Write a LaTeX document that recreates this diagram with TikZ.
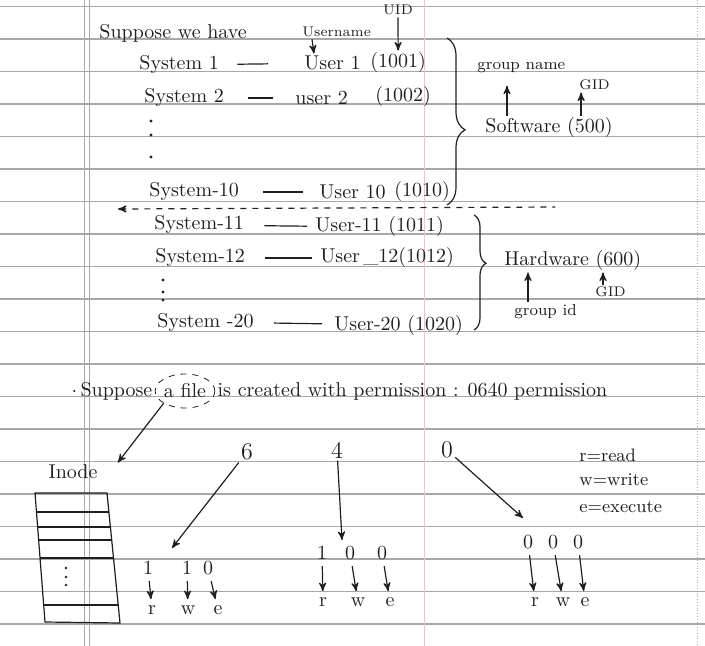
\documentclass[tikz,border=0pt]{standalone}
\usepackage{tikz}
\usetikzlibrary{arrows,positioning,shapes.geometric,decorations.pathreplacing}
\definecolor{ink}{gray}{0.12}
\definecolor{rulegray}{gray}{0.66}
\definecolor{marginpink}{RGB}{240,195,205}

\begin{document}
\begin{tikzpicture}[x=0.5pt,y=-0.5pt,>=stealth',
  every node/.style={inner sep=1pt,text=ink},
  small/.style={font=\scriptsize},
  hand/.style={draw=ink,line width=0.6pt},
  bitarrow/.style={->,hand,shorten <=2pt,shorten >=2pt}]

  \useasboundingbox (0,0) rectangle (705,646);
  % ruled paper
  \foreach \k in {0,...,19}
    \draw[rulegray,line width=0.6pt] (0,6.5+32.5*\k) -- (705,6.5+32.5*\k);
  \draw[rulegray] (84,0) -- (84,646) (89,0) -- (89,646);
  \draw[marginpink] (424,0) -- (424,646);
  \draw[rulegray,densely dotted] (697,0) -- (697,646);

  % users of the first group
  \node[anchor=west] (intro) at (97,33) {Suppose we have};
  \node[anchor=west,small] (uname) at (300,32) {Username};
  \node[small] (uid) at (398,10) {UID};

  \node[anchor=west] (s1)  at (137,65)  {System 1};
  \node[anchor=west] (u1)  at (302,63)  {User 1};
  \node[anchor=west] (id1) at (368,63)  {(1001)};
  \node[anchor=west] (s2)  at (142,98)  {System 2};
  \node[anchor=west] (u2)  at (293,98)  {user 2};
  \node[anchor=west] (id2) at (373,97)  {(1002)};
  \node[anchor=west] (s10)  at (147,192) {System-10};
  \node[anchor=west] (u10)  at (317,192) {User 10};
  \node[anchor=west] (id10) at (392,192) {(1010)};

  \draw[hand,shorten <=8pt,shorten >=17pt] (s1) -- (u1);
  \draw[hand,shorten <=11pt,shorten >=10pt] (s2) -- (u2);
  \draw[hand,shorten <=11pt,shorten >=7pt] (s10) -- (u10);
  \draw[->,hand] ([xshift=6pt]uname.south west) -- ([xshift=6pt]u1.north west);
  \draw[->,hand] (uid) -- (id1);
  \foreach \y in {121,135,157} \fill[ink] (151,\y) circle (0.8pt);

  \draw[hand,decorate,decoration={brace,amplitude=9pt,aspect=0.55}] (447,38) -- (447,205);
  \node[anchor=west,font=\footnotesize] (gname) at (475,68) {group name};
  \node[anchor=west,small] (gid1) at (577,85) {GID};
  \node[anchor=west] (sw) at (483,128) {Software (500)};
  \draw[->,hand,shorten >=5pt] ([xshift=12pt]sw.north west) -- ([xshift=12pt]sw.north west |- gname.south);
  \draw[->,hand] ([xshift=-17pt]sw.north east) -- ([xshift=-17pt]sw.north east |- gid1.south);

  \coordinate (dl) at (118,209);
  \coordinate (dr) at (555,207);
  \draw[hand,dashed,<-] (dl) -- (dr);

  % users of the second group
  \node[anchor=west] (s11) at (152,225) {System-11};
  \node[anchor=west] (u11) at (313,227) {User-11 (1011)};
  \node[anchor=west] (s12) at (153,258) {System-12};
  \node[anchor=west] (u12) at (318,258) {User\,\_12(1012)};
  \node[anchor=west] (s20) at (155,322) {System -20};
  \node[anchor=west] (u20) at (332,325) {User-20 (1020)};

  \draw[hand,shorten <=9pt,shorten >=3pt] (s11) -- (u11);
  \draw[hand,shorten <=9pt,shorten >=3pt] (s12) -- (u12);
  \draw[hand,shorten <=9pt,shorten >=5pt] (s20) -- (u20);
  \foreach \y in {280,292,300} \fill[ink] (163,\y) circle (0.8pt);

  \draw[hand,decorate,decoration={brace,amplitude=6pt,aspect=0.42}] (474,215) -- (474,330);
  \node[anchor=west] (hw) at (502,260) {Hardware (600)};
  \node[anchor=west,font=\footnotesize] (grpid) at (512,312) {group id};
  \node[anchor=west,small] (gid2) at (593,292) {GID};
  \draw[->,hand] ([xshift=8pt]grpid.north west) -- ([xshift=8pt]grpid.north west |- hw.south);
  \draw[->,hand] ([xshift=5pt]gid2.north west) -- ([xshift=5pt]gid2.north west |- hw.south);

  % file permission
  \node[draw=ink,dashed,ellipse,inner xsep=0pt,inner ysep=1pt,minimum height=17pt] (afile) at (185,391) {a file};
  \node[left=0pt of afile] (sup) {$\cdot$\,Suppose};
  \node[right=0pt of afile] (rest) {is created with permission : 0640 permission};

  \node (inode) at (73,472) {Inode};
  \draw[->,hand] (afile.south west) -- ([xshift=9pt]inode.north east);
  \draw[hand] (35,493) -- (107,493) -- (120,623) -- (45,622) -- cycle;
  \foreach \y in {512,527,540,558,605}
    \draw[hand] ({35+(\y-493)*10/129},\y) -- ({107+(\y-493)*13/130},\y);
  \foreach \y in {568,577,585} \fill[ink] (66,\y) circle (0.7pt);

  \node[font=\large] (six)  at (247,452) {6};
  \node[font=\large] (four) at (337,450) {4};
  \node[font=\large] (zero) at (447,450) {0};
  \coordinate (t6) at (172,548);
  \coordinate (t4) at (342,540);
  \coordinate (t0) at (523,518);
  \draw[->,hand] (six) -- (t6);
  \draw[->,hand] (four) -- (t4);
  \draw[->,hand] (zero) -- (t0);

  \foreach \i/\bx/\lx/\b/\l in {a/148/152/1/r, b/187/188/1/w, c/208/218/0/e}{
    \node (b6\i) at (\bx,568) {\b};
    \node (l6\i) at (\lx,610) {\l};
    \draw[bitarrow] (b6\i) -- (l6\i);
  }
  \foreach \i/\bx/\lx/\b/\l in {a/322/323/1/r, b/350/358/0/w, c/382/390/0/e}{
    \node (b4\i) at (\bx,553) {\b};
    \node (l4\i) at (\lx,602) {\l};
    \draw[bitarrow] (b4\i) -- (l4\i);
  }
  \foreach \i/\bx/\lx/\b/\l in {a/528/535/0/r, b/553/563/0/w, c/578/585/0/e}{
    \node (b0\i) at (\bx,542) {\b};
    \node (l0\i) at (\lx,602) {\l};
    \draw[bitarrow] (b0\i) -- (l0\i);
  }

  \node[anchor=west,font=\small] (kr) at (577,455) {r=read};
  \node[anchor=west,font=\small] (kw) at (577,480) {w=write};
  \node[anchor=west,font=\small] (ke) at (577,507) {e=execute};
\end{tikzpicture}
\end{document}
